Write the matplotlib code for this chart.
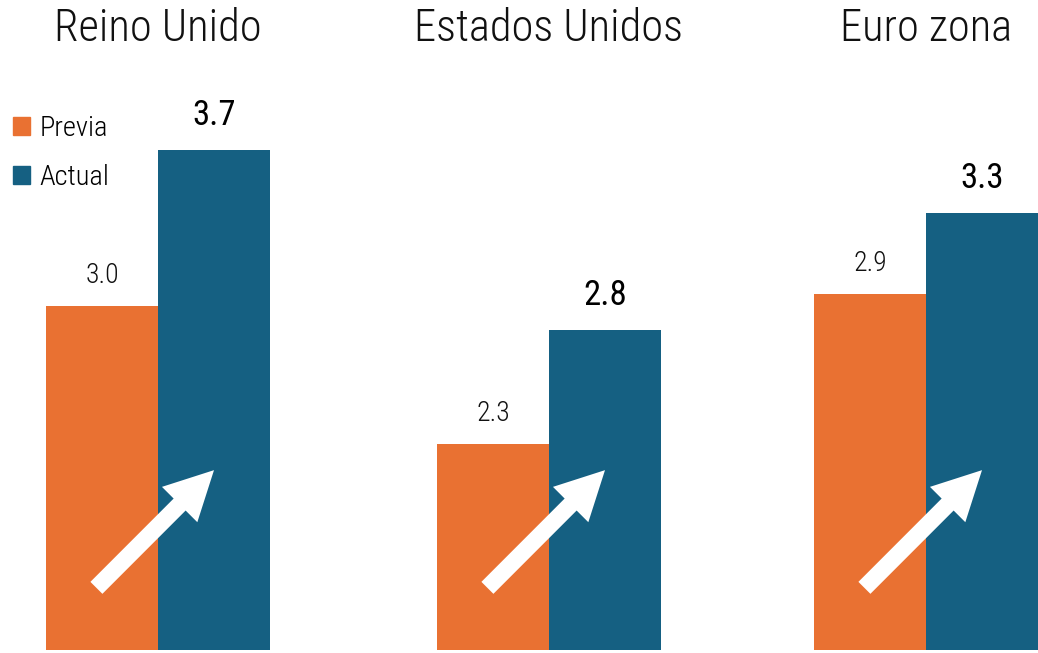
import matplotlib
matplotlib.use("Agg")
import matplotlib.pyplot as plt
from matplotlib.patches import FancyArrowPatch, Patch
import matplotlib.transforms as mtransforms

# ---- data ----
regions = ["Reino Unido", "Estados Unidos", "Euro zona"]
series_names = ["Previa", "Actual"]
previa = [3.0, 2.3, 2.9]
actual = [3.7, 2.8, 3.3]

# per-panel y-limits (each panel has its own hidden scale)
ylims = [(1.457, 3.924), (1.396, 3.808), (1.142, 3.858)]

col_prev = "#E97132"
col_act = "#156082"

FONT = ["Roboto Condensed", "DejaVu Sans"]
plt.rcParams["font.family"] = FONT

W, H = 1038, 653
fig = plt.figure(figsize=(W / 100, H / 100), dpi=100)

panel_left_px = [46, 437, 814]
panel_w_px = 224
bottom_px = 650
panel_h_px = 550

for i, reg in enumerate(regions):
    ax = fig.add_axes([panel_left_px[i] / W, (H - bottom_px) / H,
                       panel_w_px / W, panel_h_px / H])
    vals = [previa[i], actual[i]]
    ax.bar([0, 1], vals, width=1.0, color=[col_prev, col_act], zorder=2)
    ax.set_xlim(-0.5, 1.5)
    ax.set_ylim(*ylims[i])
    ax.axis("off")

    # value labels
    ax.annotate(f"{previa[i]:.1f}", xy=(0, previa[i]), xytext=(0, 22),
                textcoords="offset points", ha="center", va="center",
                fontsize=20, fontweight=300, color="#111111")
    ax.annotate(f"{actual[i]:.1f}", xy=(1, actual[i]), xytext=(0, 25),
                textcoords="offset points", ha="center", va="center",
                fontsize=25, fontweight=400, color="#000000")

    # title
    fig.text((panel_left_px[i] + panel_w_px / 2) / W, 1 - 29 / H, reg,
             ha="center", va="center", fontsize=32, fontweight=300,
             color="#111111")

    # white arrow from orange bar to blue bar
    trans = mtransforms.blended_transform_factory(ax.transData, ax.transAxes)
    arr = FancyArrowPatch((-0.05, 0.113), (1.0, 0.327), transform=trans,
                          arrowstyle="simple,head_length=3.5,head_width=3.6,tail_width=1.22",
                          mutation_scale=10, color="white", lw=0,
                          shrinkA=0, shrinkB=0, zorder=3, clip_on=False)
    ax.add_patch(arr)

# legend
handles = [Patch(color=col_prev), Patch(color=col_act)]
leg = fig.legend(handles, series_names, loc="upper left",
                 bbox_to_anchor=(13 / W, 1 - 115 / H), frameon=False,
                 fontsize=20.5, handlelength=0.6, handleheight=0.6,
                 handletextpad=0.32, labelspacing=0.78, borderaxespad=0,
                 borderpad=0)
for t in leg.get_texts():
    t.set_fontweight(300)

fig.savefig("out.png", dpi=100)
